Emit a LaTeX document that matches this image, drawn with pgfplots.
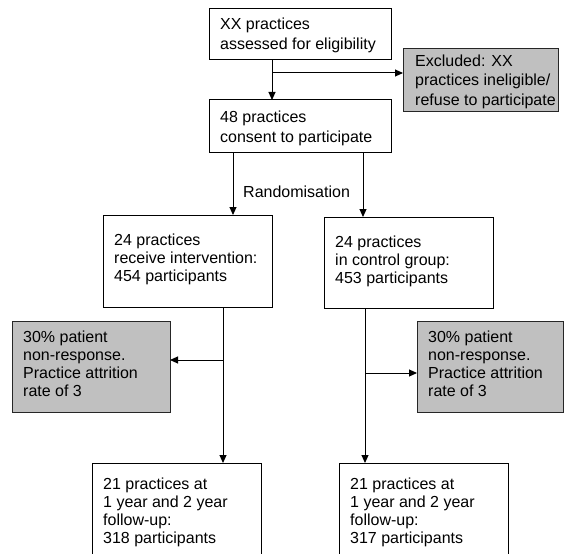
\documentclass[border=0pt]{standalone}
\usepackage{fontspec}
\setmainfont{Liberation Sans}
\usepackage{pgfplots}
\pgfplotsset{compat=1.18}
\usetikzlibrary{arrows.meta}
\definecolor{boxgray}{HTML}{C0C0C0}
\begin{document}
\begin{tikzpicture}
\begin{axis}[
  width=564bp, height=554bp, scale only axis,
  xmin=0, xmax=564, ymin=0, ymax=554, y dir=reverse,
  hide axis, clip=true,
  every axis plot/.append style={no markers, line width=1bp, forget plot},
  nodes={font=\fontsize{16bp}{19bp}\selectfont, inner sep=0pt, anchor=base west},
]
% boxes
\addplot[draw=black, fill=white] coordinates {(209,9) (391,9) (391,60) (209,60)} -- cycle;
\addplot[draw=black!85, fill=boxgray] coordinates {(403,49) (558,49) (558,112) (403,112)} -- cycle;
\addplot[draw=black, fill=white] coordinates {(209,100) (391,100) (391,152) (209,152)} -- cycle;
\addplot[draw=black, fill=white] coordinates {(103,215) (272,215) (272,307) (103,307)} -- cycle;
\addplot[draw=black, fill=white] coordinates {(324,217) (493,217) (493,308) (324,308)} -- cycle;
\addplot[draw=black!85, fill=boxgray] coordinates {(12,321) (170,321) (170,412) (12,412)} -- cycle;
\addplot[draw=black!85, fill=boxgray] coordinates {(417,321) (563.5,321) (563.5,412) (417,412)} -- cycle;
\addplot[draw=black] coordinates {(92,560) (92,463) (261,463) (261,560)};
\addplot[draw=black] coordinates {(339,560) (339,463) (508,463) (508,560)};
% arrows
\addplot[draw=black, -{Triangle[length=8bp,width=7bp]}] coordinates {(272,60) (272,100)};
\addplot[draw=black, -{Triangle[length=8bp,width=7bp]}] coordinates {(272,73) (403,73)};
\addplot[draw=black, -{Triangle[length=8bp,width=7bp]}] coordinates {(233,152) (233,215)};
\addplot[draw=black, -{Triangle[length=8bp,width=7bp]}] coordinates {(363,152) (363,217)};
\addplot[draw=black, -{Triangle[length=8bp,width=7bp]}] coordinates {(223,307) (223,463)};
\addplot[draw=black, -{Triangle[length=8bp,width=7bp]}] coordinates {(223,360) (170,360)};
\addplot[draw=black, -{Triangle[length=8bp,width=7bp]}] coordinates {(365,308) (365,463)};
\addplot[draw=black, -{Triangle[length=8bp,width=7bp]}] coordinates {(365,373) (417,373)};
% texts
\node at (220,30) {XX practices};
\node at (220,50) {assessed for eligibility};
\node at (415,67) {Excluded: XX};
\node at (415,86) {practices ineligible/};
\node at (415,105) {refuse to participate};
\node at (220,122) {48 practices};
\node at (220,142) {consent to participate};
\node at (243,197) {Randomisation};
\node at (114,245) {24 practices};
\node at (114,263) {receive intervention:};
\node at (114,281) {454 participants};
\node at (335,247) {24 practices};
\node at (335,265) {in control group:};
\node at (335,283) {453 participants};
\node at (23,342) {30\% patient};
\node at (23,360) {non-response.};
\node at (23,378) {Practice attrition};
\node at (23,396) {rate of 3};
\node at (428,342) {30\% patient};
\node at (428,360) {non-response.};
\node at (428,378) {Practice attrition};
\node at (428,396) {rate of 3};
\node at (103,489) {21 practices at};
\node at (103,507) {1 year and 2 year};
\node at (103,525) {follow-up:};
\node at (103,543) {318 participants};
\node at (350,489) {21 practices at};
\node at (350,507) {1 year and 2 year};
\node at (350,525) {follow-up:};
\node at (350,543) {317 participants};
\end{axis}
\pgfresetboundingbox
\path (current axis.south west) rectangle (current axis.north east);
\end{tikzpicture}
\end{document}
